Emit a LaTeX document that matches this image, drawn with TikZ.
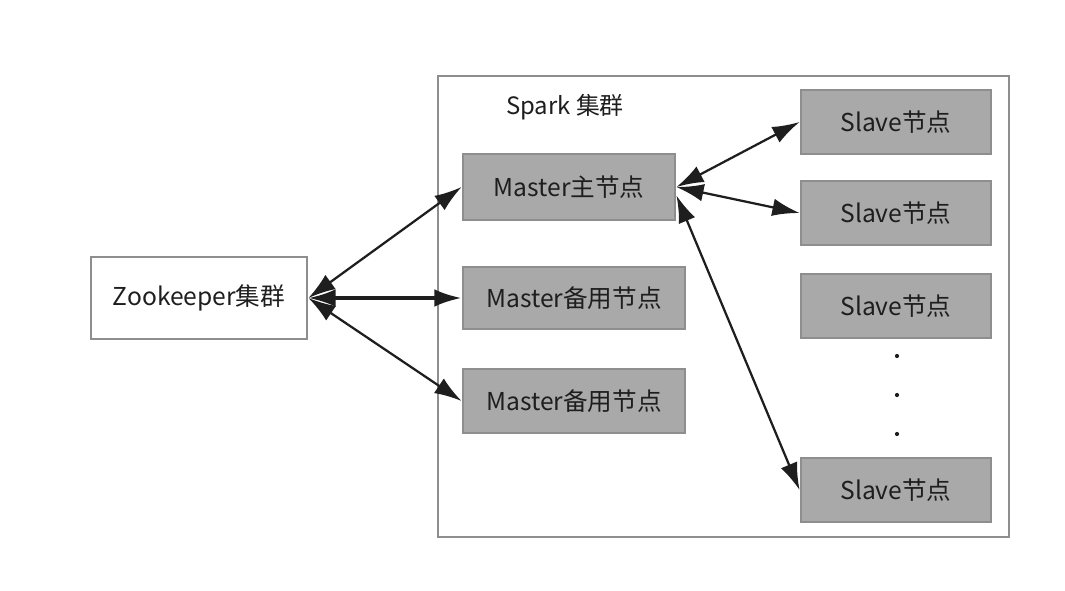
\documentclass[tikz,border=0pt]{standalone}
\usepackage{fontspec}
\setmainfont{Noto Sans CJK SC}
\usetikzlibrary{arrows.meta}

\definecolor{boxgray}{HTML}{A9A9A9}
\definecolor{edgegray}{HTML}{8E8E8E}
\definecolor{inkgray}{HTML}{1E1E1E}

\tikzset{
  grayblock/.style={draw=edgegray, line width=2pt, fill=boxgray, text=inkgray, inner sep=0pt,
    font=\fontsize{17.5}{20}\selectfont},
  slavebox/.style={grayblock, minimum width=4.75cm, minimum height=1.6cm},
  link/.style={inkgray, line width=1.6pt,
    {Latex[length=0.68cm,width=0.44cm]}-{Latex[length=0.68cm,width=0.44cm]}}
}

\begin{document}
\begin{tikzpicture}[x=0.025cm, y=-0.025cm]
  \useasboundingbox (0, 0) rectangle (1065, 591);

  % spark cluster frame
  \draw [edgegray, line width=2pt] (438, 76) rectangle (1009, 537);
  \node (spark) at (565, 107) [text=inkgray, font=\fontsize{17}{20}\selectfont] {Spark 集群};

  \node (zoo) at (199, 298) [grayblock, fill=white, minimum width=5.4cm, minimum height=2.05cm] {Zookeeper集群};

  \node (master) at (569, 187) [grayblock, minimum width=5.3cm, minimum height=1.65cm] {Master主节点};
  \node (backupa) at (574, 298) [grayblock, minimum width=5.55cm, minimum height=1.55cm] {Master备用节点};
  \node (backupb) at (574, 401) [grayblock, minimum width=5.55cm, minimum height=1.6cm] {Master备用节点};

  \node (slavea) at (896, 122) [slavebox] {Slave节点};
  \node (slaveb) at (896, 213) [slavebox] {Slave节点};
  \node (slavec) at (896, 306) [slavebox] {Slave节点};
  \node (slaved) at (896, 490) [slavebox] {Slave节点};

  \foreach \y in {356, 395, 434}
    \fill [inkgray] (897, \y) circle (1.5pt);

  \draw [link] (zoo.east) -- (master.west);
  \draw [link, line width=2.4pt] (zoo.east) -- (backupa.west);
  \draw [link] (zoo.east) -- (backupb.west);

  \draw [link] (master.east) -- (slavea.west);
  \draw [link] (master.east) -- (slaveb.west);
  \draw [link] ([yshift=-6pt]master.east) -- (slaved.west);
\end{tikzpicture}
\end{document}
